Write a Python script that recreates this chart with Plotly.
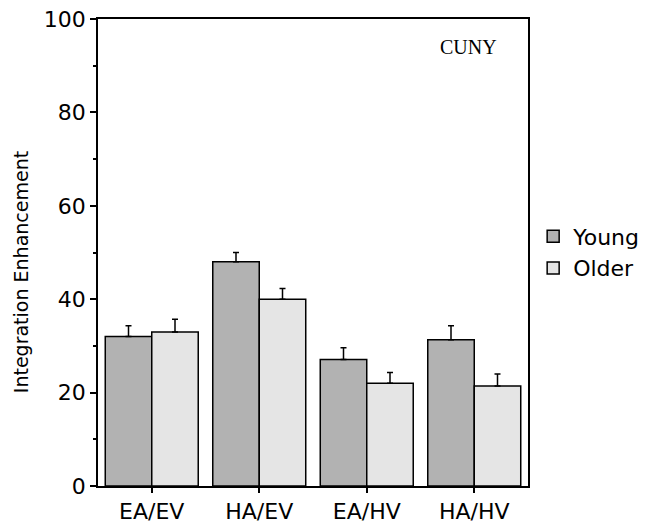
import plotly.graph_objects as go

# Values
categories = ['EA/EV', 'HA/EV', 'EA/HV', 'HA/HV']
young = [32.0, 48.0, 27.1, 31.3]
young_err = [2.3, 2.0, 2.5, 3.0]
older = [33.0, 40.0, 22.0, 21.4]
older_err = [2.7, 2.3, 2.3, 2.6]

fig = go.Figure()

fig.add_trace(go.Bar(
    x=categories, y=young, name='Young',
    marker=dict(color='#b2b2b2', line=dict(color='black', width=1.5)),
    error_y=dict(type='data', array=young_err, symmetric=False, arrayminus=[0] * 4,
                 color='black', thickness=1.5, width=3),
))
fig.add_trace(go.Bar(
    x=categories, y=older, name='Older',
    marker=dict(color='#e5e5e5', line=dict(color='black', width=1.5)),
    error_y=dict(type='data', array=older_err, symmetric=False, arrayminus=[0] * 4,
                 color='black', thickness=1.5, width=3),
))

fig.add_annotation(
    text='CUNY', x=0.862, y=0.94, xref='paper', yref='paper',
    showarrow=False, xanchor='center', yanchor='middle',
    font=dict(family='Liberation Serif', size=20, color='black'),
)
# y axis title, placed by hand (it sits a bit below the plot middle)
fig.add_annotation(
    text='Integration Enhancement', x=-0.18, y=0.457, xref='paper', yref='paper',
    showarrow=False, textangle=-90, xanchor='center', yanchor='middle',
    font=dict(family='DejaVu Sans', size=19, color='black'),
)

# page body adds an 8px margin, so the figure is 8px smaller and shifted
fig.update_layout(
    width=644, height=524,
    margin=dict(l=90, r=124, t=11, b=46, autoexpand=False),
    plot_bgcolor='white', paper_bgcolor='white',
    barmode='group', bargap=0.135, bargroupgap=0,
    font=dict(family='DejaVu Sans', color='black'),
    showlegend=True,
    legend=dict(x=1.012, y=0.5, xanchor='left', yanchor='middle',
                font=dict(size=22), bgcolor='rgba(0,0,0,0)'),
)

fig.update_xaxes(
    automargin=False,
    showline=True, linecolor='black', linewidth=1.5, mirror=True,
    ticks='outside', ticklen=5, tickcolor='black', tickwidth=1.5,
    tickfont=dict(size=22), showgrid=False,
)
fig.update_yaxes(
    automargin=False, ticklabeloverflow='allow',
    range=[0, 100], tickvals=[0, 20, 40, 60, 80, 100],
    showline=True, linecolor='black', linewidth=1.5, mirror=True,
    ticks='outside', ticklen=6, tickcolor='black', tickwidth=1.5,
    minor=dict(tickvals=[10, 30, 50, 70, 90], ticks='outside', ticklen=3,
               tickcolor='black', tickwidth=1.5),
    tickfont=dict(size=22), showgrid=False, zeroline=False,
)

fig.write_html("out.html")
